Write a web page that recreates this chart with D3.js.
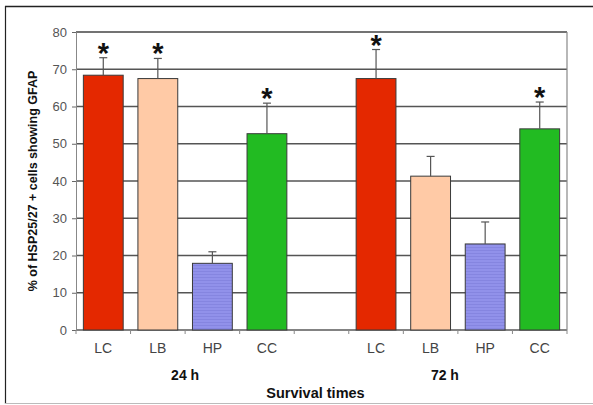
<!DOCTYPE html>
<html>
<head>
<meta charset="utf-8">
<script src="https://cdn.jsdelivr.net/npm/d3@7"></script>
<style>
  body { margin: 0; background: #fff; }
  text { font-family: Arial, "Liberation Sans", sans-serif; }
</style>
</head>
<body>
<div id="chart"></div>
<script>
// data
var groups = ["24 h", "72 h"];
var regions = ["LC", "LB", "HP", "CC"];
var means24 = [68.4, 67.5, 17.9, 52.7];
var errors24 = [4.7, 5.4, 3.1, 8.2];
var means72 = [67.5, 41.3, 23.1, 54.0];
var errors72 = [7.8, 5.3, 5.9, 7.2];
var signif24 = [true, true, false, true];
var signif72 = [true, false, false, true];
var yTicks = [0, 10, 20, 30, 40, 50, 60, 70, 80];

var regionColors = { LC: "#e42800", LB: "#ffcaa6", HP: "#9191ea", CC: "#22bb22" };

var svgWidth = 593;
var svgHeight = 405;

var margin = { top: 32, right: 26, bottom: 75, left: 76 };
var width = 567 - margin.left;
var height = 330 - margin.top;

var svg = d3.select("#chart")
    .append("svg")
    .attr("width", svgWidth)
    .attr("height", svgHeight);

// outer frame
svg.append("line").attr("x1", 5).attr("x2", 593).attr("y1", 6.5).attr("y2", 6.5)
    .attr("stroke", "#222").attr("stroke-width", 1.5);
svg.append("line").attr("x1", 5.5).attr("x2", 5.5).attr("y1", 6).attr("y2", 404)
    .attr("stroke", "#222").attr("stroke-width", 1.2);
svg.append("line").attr("x1", 5).attr("x2", 593).attr("y1", 403.5).attr("y2", 403.5)
    .attr("stroke", "#bbb").attr("stroke-width", 1);

var chartGroup = svg.append("g")
    .attr("transform", `translate(${margin.left}, ${margin.top})`);

// build the rows, with an empty slot between the two time points
var rows = [];
regions.forEach(function(r, i) {
    rows.push({ key: "24|" + r, region: r, mean: means24[i], err: errors24[i], sig: signif24[i] });
});
rows.push({ key: "gap", region: "", mean: null });
regions.forEach(function(r, i) {
    rows.push({ key: "72|" + r, region: r, mean: means72[i], err: errors72[i], sig: signif72[i] });
});

var xBandScale = d3.scaleBand()
    .domain(rows.map(d => d.key))
    .range([0, width])
    .paddingInner(0.27)
    .paddingOuter(0.135);

var yLinearScale = d3.scaleLinear()
    .domain([0, 80])
    .range([height, 0]);

var bars = rows.filter(d => d.mean !== null);

// stripe pattern for the HP bars
var defs = svg.append("defs");
var pat = defs.append("pattern")
    .attr("id", "hpStripes")
    .attr("patternUnits", "userSpaceOnUse")
    .attr("width", 4).attr("height", 3);
pat.append("rect").attr("width", 4).attr("height", 3).attr("fill", regionColors.HP);
pat.append("rect").attr("y", 2).attr("width", 4).attr("height", 1).attr("fill", "#8585e0");

// grid lines
chartGroup.append("g").selectAll("line")
    .data(yTicks)
    .enter()
    .append("line")
    .attr("x1", 0)
    .attr("x2", width)
    .attr("y1", d => yLinearScale(d))
    .attr("y2", d => yLinearScale(d))
    .attr("stroke", d => d === 80 ? "#444" : "#555")
    .attr("stroke-width", 1.3);

// right border of plot
chartGroup.append("line")
    .attr("x1", width).attr("x2", width)
    .attr("y1", 0).attr("y2", height)
    .attr("stroke", "#888").attr("stroke-width", 1.2);

// y axis
var leftAxis = d3.axisLeft(yLinearScale)
    .tickValues(yTicks)
    .tickSize(4)
    .tickPadding(5);
var yAxis = chartGroup.append("g").call(leftAxis);
yAxis.select(".domain").attr("stroke", "#888");
yAxis.selectAll(".tick line").attr("stroke", "#666");
yAxis.selectAll(".tick text")
    .attr("fill", "#555")
    .style("font-size", "13px");

// x axis: ticks on slot boundaries
var step = xBandScale.step();
var boundaries = d3.range(rows.length + 1).map(i => i * step);
var xAxisG = chartGroup.append("g").attr("transform", `translate(0, ${height})`);
xAxisG.append("line")
    .attr("x1", 0).attr("x2", width)
    .attr("y1", 0).attr("y2", 0)
    .attr("stroke", "#888").attr("stroke-width", 1.2);
xAxisG.selectAll(".xtick")
    .data(boundaries)
    .enter()
    .append("line")
    .attr("class", "xtick")
    .attr("x1", d => d).attr("x2", d => d)
    .attr("y1", 0).attr("y2", 4)
    .attr("stroke", "#888");

// bars
chartGroup.append("g").selectAll("rect")
    .data(bars)
    .enter()
    .append("rect")
    .attr("x", d => xBandScale(d.key))
    .attr("y", d => yLinearScale(d.mean))
    .attr("width", xBandScale.bandwidth())
    .attr("height", d => height - yLinearScale(d.mean))
    .attr("fill", d => d.region === "HP" ? "url(#hpStripes)" : regionColors[d.region])
    .attr("stroke", "#3a3a3a")
    .attr("stroke-width", 1);

// error bars
var errG = chartGroup.append("g").attr("stroke", "#555").attr("stroke-width", 1.2);
errG.selectAll(".stem")
    .data(bars)
    .enter()
    .append("line")
    .attr("x1", d => xBandScale(d.key) + xBandScale.bandwidth() / 2)
    .attr("x2", d => xBandScale(d.key) + xBandScale.bandwidth() / 2)
    .attr("y1", d => yLinearScale(d.mean))
    .attr("y2", d => yLinearScale(d.mean + d.err));
errG.selectAll(".cap")
    .data(bars)
    .enter()
    .append("line")
    .attr("x1", d => xBandScale(d.key) + xBandScale.bandwidth() / 2 - 4)
    .attr("x2", d => xBandScale(d.key) + xBandScale.bandwidth() / 2 + 4)
    .attr("y1", d => yLinearScale(d.mean + d.err))
    .attr("y2", d => yLinearScale(d.mean + d.err));

// significance asterisks
chartGroup.append("g").selectAll("text")
    .data(bars.filter(d => d.sig))
    .enter()
    .append("text")
    .attr("x", d => xBandScale(d.key) + xBandScale.bandwidth() / 2)
    .attr("y", d => yLinearScale(d.mean + d.err) + 5)
    .attr("text-anchor", "middle")
    .style("font-size", "29px")
    .style("font-weight", "bold")
    .attr("fill", "#111")
    .text("*");

// category labels
chartGroup.append("g").selectAll("text")
    .data(bars)
    .enter()
    .append("text")
    .attr("x", d => xBandScale(d.key) + xBandScale.bandwidth() / 2)
    .attr("y", height + 23)
    .attr("text-anchor", "middle")
    .attr("fill", "#444")
    .style("font-size", "14px")
    .text(d => d.region);

// group labels
var groupX = [
    (xBandScale("24|LB") + xBandScale("24|HP") + xBandScale.bandwidth()) / 2,
    (xBandScale("72|LB") + xBandScale("72|HP") + xBandScale.bandwidth()) / 2 - 13
];
chartGroup.append("g").selectAll("text")
    .data(groups)
    .enter()
    .append("text")
    .attr("x", (d, i) => groupX[i])
    .attr("y", height + 50)
    .attr("text-anchor", "middle")
    .attr("fill", "#111")
    .style("font-size", "14px")
    .style("font-weight", "bold")
    .text(d => d);

// x title
chartGroup.append("text")
    .attr("x", width / 2 - 6)
    .attr("y", height + 68)
    .attr("text-anchor", "middle")
    .attr("fill", "#111")
    .style("font-size", "14.5px")
    .style("font-weight", "bold")
    .text("Survival  times");

// y title
chartGroup.append("text")
    .attr("transform", `rotate(-90) translate(${-height / 2}, ${-39})`)
    .attr("text-anchor", "middle")
    .attr("fill", "#111")
    .style("font-size", "12.5px")
    .style("font-weight", "bold")
    .text("% of HSP25/27 + cells showing GFAP");
</script>
</body>
</html>
